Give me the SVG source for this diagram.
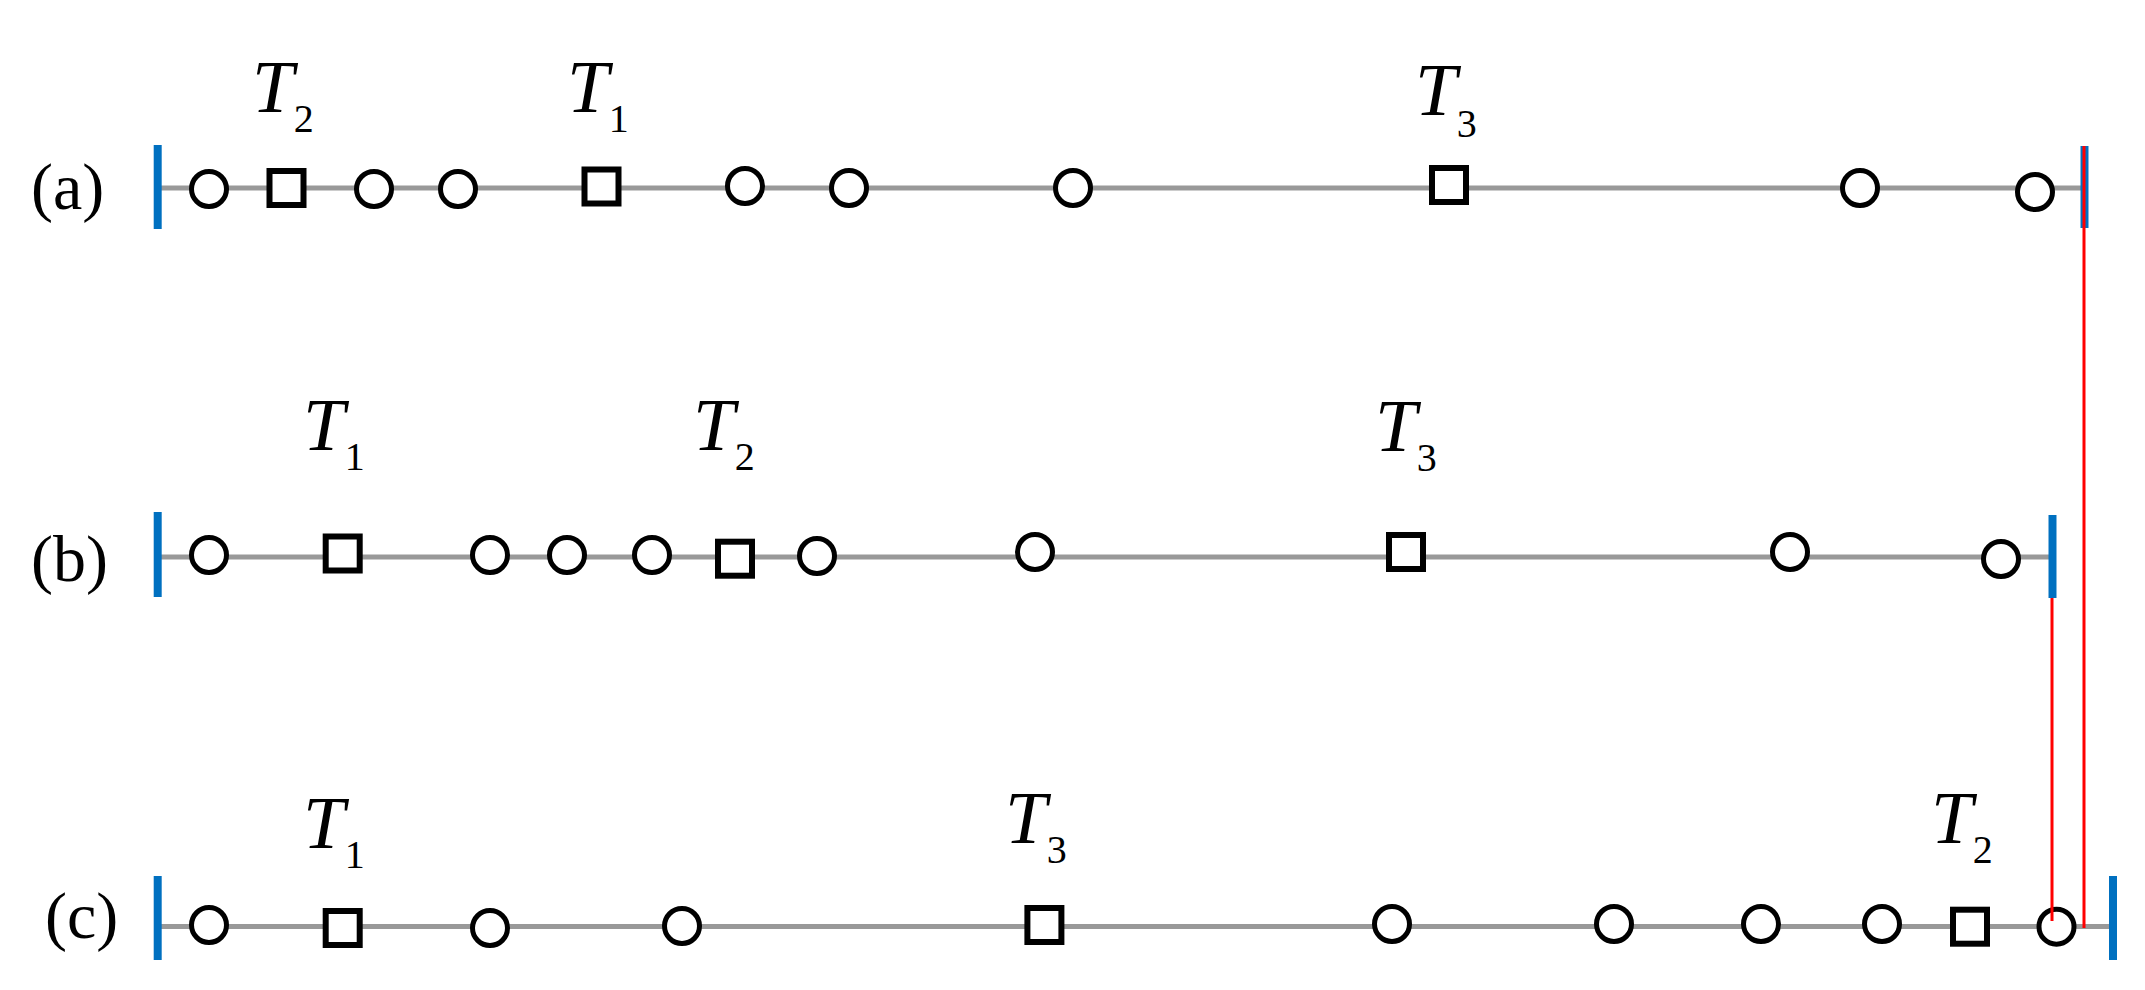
<svg xmlns="http://www.w3.org/2000/svg" width="2145" height="990" viewBox="0 0 2145 990">
<style>
.axis{stroke:#999999;stroke-width:5;fill:none}
.bar{stroke:#0070C0;stroke-width:8;fill:none}
.red{stroke:#FF0000;stroke-width:3;fill:none}
.c{fill:#FFFFFF;stroke:#000000;stroke-width:5}
.s{fill:#FFFFFF;stroke:#000000;stroke-width:6}
.T{font-family:"Liberation Serif","Times New Roman",serif;font-style:italic;font-size:75px;fill:#000}
.sub{font-style:normal;font-size:40px}
.lab{font-family:"Liberation Serif","Times New Roman",serif;font-size:66px;fill:#000}
</style>
<rect width="2145" height="990" fill="#FFFFFF"/>

<g id="connectors">
  <line class="axis" x1="158" y1="188" x2="2084" y2="188"/>
  <line class="axis" x1="158" y1="557" x2="2052" y2="557"/>
  <line class="axis" x1="158" y1="926.5" x2="2113" y2="926.5"/>
</g>

<g id="row-a">
  <text class="lab" x="31" y="209">(a)</text>
  <line class="bar" x1="157.7" y1="145" x2="157.7" y2="229"/>
  <line class="bar" x1="2084.5" y1="146" x2="2084.5" y2="228"/>
  <circle class="c" cx="209" cy="189" r="17.5"/>
  <rect class="s" x="269.5" y="171" width="34" height="34"/>
  <circle class="c" cx="374" cy="189" r="17.5"/>
  <circle class="c" cx="458" cy="189" r="17.5"/>
  <rect class="s" x="584.5" y="169.5" width="34" height="34"/>
  <circle class="c" cx="745" cy="186" r="17.5"/>
  <circle class="c" cx="849" cy="188" r="17.5"/>
  <circle class="c" cx="1073" cy="188" r="17.5"/>
  <rect class="s" x="1432" y="168" width="34" height="34"/>
  <circle class="c" cx="1860" cy="188" r="17.5"/>
  <circle class="c" cx="2035" cy="192" r="17.5"/>
  <text class="T" x="252" y="112">T<tspan class="sub" dy="20">2</tspan></text>
  <text class="T" x="567" y="112">T<tspan class="sub" dy="20">1</tspan></text>
  <text class="T" x="1415" y="115">T<tspan class="sub" dy="22">3</tspan></text>
</g>

<g id="row-b">
  <text class="lab" x="31" y="581">(b)</text>
  <line class="bar" x1="157.7" y1="512" x2="157.7" y2="597"/>
  <line class="bar" x1="2052.5" y1="515" x2="2052.5" y2="598"/>
  <circle class="c" cx="209" cy="555" r="17.5"/>
  <rect class="s" x="325.7" y="536.5" width="34" height="34"/>
  <circle class="c" cx="490" cy="555" r="17.5"/>
  <circle class="c" cx="567" cy="555" r="17.5"/>
  <circle class="c" cx="652" cy="555" r="17.5"/>
  <rect class="s" x="718" y="541.7" width="34" height="34"/>
  <circle class="c" cx="817" cy="556" r="17.5"/>
  <circle class="c" cx="1035" cy="552" r="17.5"/>
  <rect class="s" x="1389" y="535" width="34" height="34"/>
  <circle class="c" cx="1790" cy="552" r="17.5"/>
  <circle class="c" cx="2001" cy="559" r="17.5"/>
  <text class="T" x="303" y="450">T<tspan class="sub" dy="20">1</tspan></text>
  <text class="T" x="693" y="450">T<tspan class="sub" dy="20">2</tspan></text>
  <text class="T" x="1375" y="451">T<tspan class="sub" dy="20">3</tspan></text>
</g>

<g id="row-c">
  <text class="lab" x="45" y="938">(c)</text>
  <line class="bar" x1="157.7" y1="876" x2="157.7" y2="960"/>
  <line class="bar" x1="2113" y1="876" x2="2113" y2="960"/>
  <circle class="c" cx="209" cy="925" r="17.5"/>
  <rect class="s" x="325.7" y="911" width="34" height="34"/>
  <circle class="c" cx="490" cy="928" r="17.5"/>
  <circle class="c" cx="682" cy="926" r="17.5"/>
  <rect class="s" x="1027.4" y="908" width="34" height="34"/>
  <circle class="c" cx="1392" cy="924" r="17.5"/>
  <circle class="c" cx="1614" cy="924" r="17.5"/>
  <circle class="c" cx="1761" cy="924" r="17.5"/>
  <circle class="c" cx="1882" cy="924" r="17.5"/>
  <rect class="s" x="1953" y="909.7" width="34" height="34"/>
  <circle class="c" cx="2056.5" cy="926.7" r="17.5"/>
  <text class="T" x="303" y="848">T<tspan class="sub" dy="20">1</tspan></text>
  <text class="T" x="1005" y="843">T<tspan class="sub" dy="20">3</tspan></text>
  <text class="T" x="1931" y="843">T<tspan class="sub" dy="20">2</tspan></text>
</g>

<g id="markers">
  <line class="red" x1="2052" y1="598" x2="2052" y2="921"/>
  <line class="red" x1="2084" y1="146" x2="2084" y2="928"/>
</g>
</svg>
